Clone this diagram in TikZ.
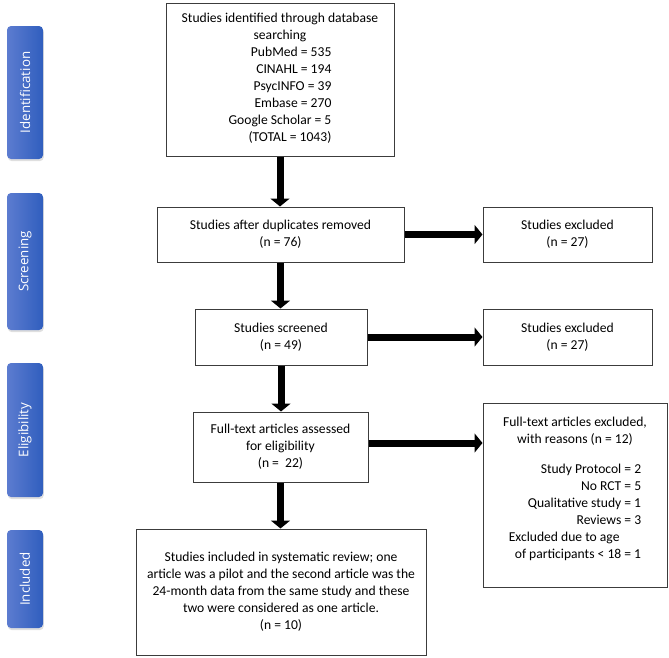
\documentclass[tikz,border=0pt]{standalone}
\usepackage{fontspec}
\setmainfont{Carlito}
\newfontfamily\tabfont{Open Sans}
\usepackage{tikz}
\usetikzlibrary{arrows.meta, shadows}
\definecolor{tableft}{RGB}{92,124,208}
\definecolor{tabright}{RGB}{48,94,190}
\definecolor{boxline}{RGB}{60,60,60}

\begin{document}
\begin{tikzpicture}[x=0.75pt, y=-0.75pt,
    box/.style={draw=boxline, line width=0.75pt, align=center, inner sep=0pt, font=\fontsize{10.2}{12.75}\selectfont},
    phase/.style={rounded corners=3pt, left color=tableft, right color=tabright, text=white, font=\tabfont\fontsize{10}{12}\selectfont, minimum width=27pt, inner sep=0pt, drop shadow={opacity=0.25, shadow xshift=0.6pt, shadow yshift=-1.6pt}},
    bigarrow/.style={line width=5.25pt, -{Triangle[width=14.25pt, length=6pt]}}]
    \useasboundingbox (0,0) rectangle (669,658);

    \node[phase, minimum height=99.75pt] (identification) at (25,92.5) {\rotatebox{90}{Identification}};
    \node[phase, minimum height=102.75pt] (screening) at (25,261.5) {\rotatebox{90}{Screening}};
    \node[phase, minimum height=100.5pt] (eligibility) at (25,430) {\rotatebox{90}{Eligibility}};
    \node[phase, minimum height=73.5pt] (included) at (25,579) {\rotatebox{90}{Included}};

    \node[box, minimum width=171pt, minimum height=114.75pt] (found) at (280,79.5) {Studies identified through database\\ searching\\ \begin{tabular}[t]{@{}r@{}}PubMed = 535\\ CINAHL = 194\\ PsycINFO = 39\\ Embase = 270\\ Google Scholar = 5\hspace{2.5pt}\\ (TOTAL = 1043)\end{tabular}};
    \node[box, minimum width=185.25pt, minimum height=41.25pt] (dedup) at (280.5,234.5) {Studies after duplicates removed\\ (n = 76)};
    \node[box, minimum width=126.75pt, minimum height=41.25pt] (excl1) at (567.5,234.5) {Studies excluded\\ (n = 27)};
    \node[box, minimum width=129pt, minimum height=42pt] (screened) at (281,337) {Studies screened\\ (n = 49)};
    \node[box, minimum width=126.75pt, minimum height=42pt] (excl2) at (567.5,337) {Studies excluded\\ (n = 27)};
    \node[box, minimum width=131.25pt, minimum height=52.5pt] (fulltext) at (280.5,447) {Full-text articles assessed\\ for eligibility\\ (n = \ 22)};
    \node[box, minimum width=138pt, minimum height=138pt] (excl3) at (575,495) {Full-text articles excluded,\\ with reasons (n = 12)\\[10pt] \begin{tabular}[t]{@{}r@{}}Study Protocol = 2\\ No RCT = 5\\ Qualitative study = 1\\ Reviews = 3\\ \multicolumn{1}{@{}l@{}}{Excluded due to age}\\ \multicolumn{1}{@{}l@{}}{\hspace{4.5pt}of participants < 18 = 1}\end{tabular}\\[-6.75pt] \strut};
    \node[box, minimum width=217.5pt, minimum height=94.5pt] (review) at (281,592) {Studies included in systematic review; one\\ article was a pilot and the second article was the\\ 24-month data from the same study and these\\ two were considered as one article.\\ (n = 10)};

    \draw[bigarrow] (found.south) -- (found.south |- dedup.north);
    \draw[bigarrow] (dedup.south) -- (dedup.south |- screened.north);
    \draw[bigarrow] (screened.south) -- (screened.south |- fulltext.north);
    \draw[bigarrow] (fulltext.south) -- (fulltext.south |- review.north);

    \draw[bigarrow] (dedup.east) -- (excl1.west);
    \draw[bigarrow] (screened.east) -- (excl2.west);
    \draw[bigarrow] ([yshift=3pt]fulltext.east) -- ([yshift=3pt]fulltext.east -| excl3.west);
\end{tikzpicture}
\end{document}
